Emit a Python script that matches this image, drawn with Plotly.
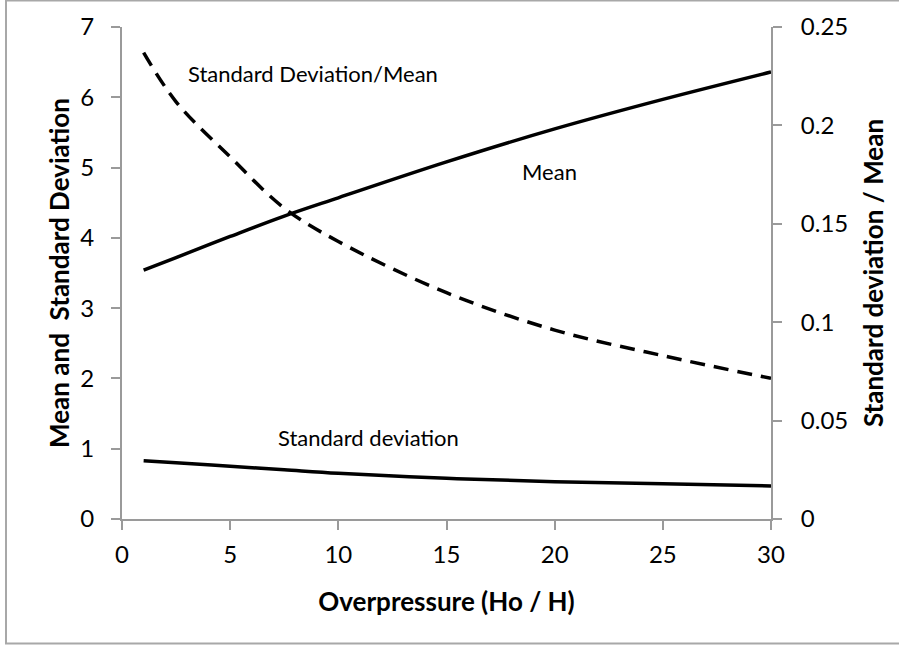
import plotly.graph_objects as go

# Data
overpressure = [1, 2.5, 5, 7.5, 10, 15, 20, 25, 30]
mean_vals = [3.54, 3.72, 4.02, 4.31, 4.57, 5.08, 5.55, 5.97, 6.36]
std_vals = [0.83, 0.80, 0.75, 0.70, 0.65, 0.58, 0.53, 0.50, 0.47]
ratio_vals = [0.237, 0.212, 0.184, 0.158, 0.141, 0.115, 0.096, 0.083, 0.0715]

x_ticks = [0, 5, 10, 15, 20, 25, 30]
y_ticks = [0, 1, 2, 3, 4, 5, 6, 7]
y2_ticks = [0, 0.05, 0.1, 0.15, 0.2, 0.25]
y2_labels = ["0", "0.05", "0.1", "0.15", "0.2", "0.25"]

FONT = "Lato, 'Open Sans', sans-serif"
AXC = "#9a9a9a"

fig = go.Figure()
fig.add_trace(go.Scatter(x=overpressure, y=mean_vals, mode="lines",
                         line=dict(color="black", width=3.5, shape="spline"),
                         name="Mean", showlegend=False))
fig.add_trace(go.Scatter(x=overpressure, y=std_vals, mode="lines",
                         line=dict(color="black", width=3.5, shape="spline"),
                         name="Standard deviation", showlegend=False))
fig.add_trace(go.Scatter(x=overpressure, y=ratio_vals, mode="lines", yaxis="y2",
                         line=dict(color="black", width=3.5, shape="spline", dash="15px,9px"),
                         name="Standard Deviation/Mean", showlegend=False))

L, R, T, B = 122, 128, 27, 127
W, H = 899, 646
pw, ph = W - L - R, H - T - B

def px_x(p):
    return (p - L) / pw

def px_y(p):
    return (H - B - p) / ph

TICKF = 24
TITLEF = 26
ANNF = 22

fig.update_layout(
    width=W, height=H,
    margin=dict(l=L, r=R, t=T, b=B, pad=0),
    paper_bgcolor="white", plot_bgcolor="white",
    font=dict(family=FONT, color="black", size=TICKF),
    xaxis=dict(range=[0, 30], tickvals=x_ticks, showgrid=False, zeroline=False,
               showline=True, linecolor=AXC, linewidth=2,
               ticks="outside", ticklen=9, tickwidth=2, tickcolor=AXC,
               tickfont=dict(size=TICKF), ticklabelstandoff=4,
               title=dict(text="<b>Overpressure (Ho / H)</b>", font=dict(size=TITLEF), standoff=26)),
    yaxis=dict(range=[0, 7], tickvals=y_ticks, showgrid=False, zeroline=False,
               showline=True, linecolor=AXC, linewidth=2,
               ticks="outside", ticklen=9, tickwidth=2, tickcolor=AXC,
               tickfont=dict(size=TICKF), ticklabelstandoff=12,
               title=dict(text="<b>Mean and  Standard Deviation</b>", font=dict(size=TITLEF), standoff=3)),
    yaxis2=dict(range=[0, 0.25], tickvals=y2_ticks, ticktext=y2_labels, overlaying="y",
                side="right", showgrid=False, zeroline=False,
                showline=True, linecolor=AXC, linewidth=2,
                ticks="outside", ticklen=9, tickwidth=2, tickcolor=AXC,
                tickfont=dict(size=TICKF), ticklabelstandoff=14,
                title=dict(text="<b>Standard deviation / Mean</b>", font=dict(size=TITLEF), standoff=18)),
    annotations=[
        dict(text="Standard Deviation/Mean", x=px_x(313), y=px_y(73)),
        dict(text="Mean", x=px_x(549), y=px_y(172)),
        dict(text="Standard deviation", x=px_x(368), y=px_y(437)),
    ],
)
fig.update_annotations(xref="paper", yref="paper", showarrow=False,
                       xanchor="center", yanchor="middle", font=dict(size=ANNF))

# outer gray frame
fig.add_shape(type="rect", xref="paper", yref="paper",
              x0=px_x(6), x1=px_x(W + 10),
              y0=px_y(643.5), y1=px_y(0.5),
              line=dict(color="#a8a8a8", width=2), layer="below")

fig.write_html("out.html")
